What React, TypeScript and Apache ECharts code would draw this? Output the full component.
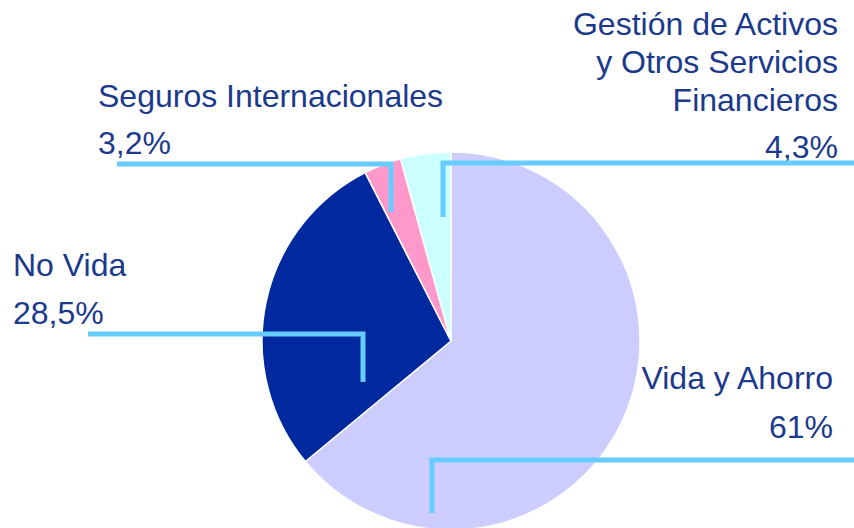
import React, { useEffect, useRef } from "react";
import * as echarts from "echarts";

const categories = [
  "Vida y Ahorro",
  "No Vida",
  "Seguros Internacionales",
  "Gestión de Activos\ny Otros Servicios\nFinancieros",
];
// slice sizes as drawn in the picture
const values = [64, 28.5, 3.2, 4.3];
// percentage labels as printed
const percentLabels = ["61%", "28,5%", "3,2%", "4,3%"];
const colors = ["#ccccff", "#00299f", "#ff99cc", "#ccffff"];

const TEXT_COLOR = "#1b3a8c";
const LINE_COLOR = "#66ccff";
const FONT = "'Liberation Sans', Arial, sans-serif";

export default function App() {
  const ref = useRef<HTMLDivElement>(null);
  useEffect(() => {
    document.body.style.margin = "0";
    const chart = echarts.init(ref.current!, null, { renderer: "svg" });

    const txt = (text: string, x: number, y: number, align: string, lh = 38) => ({
      type: "text",
      x,
      y,
      z: 10,
      style: {
        text,
        fill: TEXT_COLOR,
        fontSize: 32,
        fontFamily: FONT,
        align,
        verticalAlign: "bottom",
        lineHeight: lh,
      },
    });
    const line = (pts: number[][]) => ({
      type: "polyline",
      z: 20,
      shape: { points: pts },
      style: { stroke: LINE_COLOR, lineWidth: 5, fill: null, lineJoin: "miter" },
    });

    chart.setOption({
      animation: false,
      series: [
        {
          type: "pie",
          center: [451, 341],
          radius: [0, 189],
          startAngle: 90,
          clockwise: true,
          label: { show: false },
          labelLine: { show: false },
          emphasis: { disabled: true },
          itemStyle: { borderColor: "#ffffff", borderWidth: 1.5 },
          data: categories.map((c, i) => ({
            name: c,
            value: values[i],
            itemStyle: { color: colors[i] },
          })),
        },
      ],
      graphic: [
        // Gestión
        txt(categories[3], 838, 119, "right"),
        txt(percentLabels[3], 838, 166, "right"),
        line([[443, 217], [443, 163], [854, 163]]),
        // Seguros
        txt(categories[2], 98, 115, "left"),
        txt(percentLabels[2], 98, 162, "left"),
        line([[117, 164], [391, 164], [391, 212]]),
        // No Vida
        txt(categories[1], 13, 284, "left"),
        txt(percentLabels[1], 13, 332, "left"),
        line([[88, 334], [363, 334], [363, 382]]),
        // Vida y Ahorro
        txt(categories[0], 833, 397, "right"),
        txt(percentLabels[0], 833, 446, "right"),
        line([[432, 513], [432, 460], [854, 460]]),
      ],
    });
    return () => chart.dispose();
  }, []);
  return <div ref={ref} style={{ width: 854, height: 528 }} />;
}
